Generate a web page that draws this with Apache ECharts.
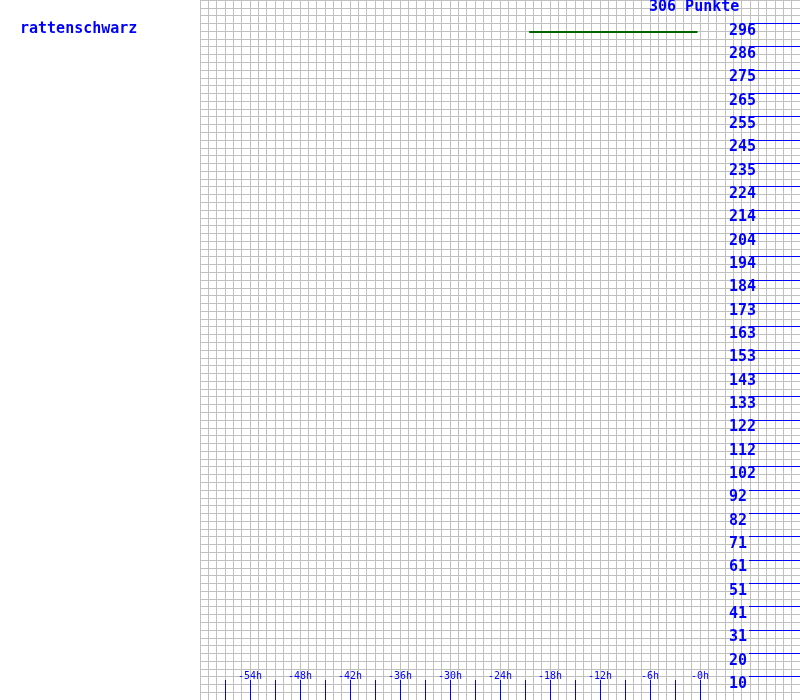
<!DOCTYPE html>
<html>
<head>
<meta charset="utf-8">
<script src="https://cdn.jsdelivr.net/npm/echarts@6/dist/echarts.min.js"></script>
<style>
html,body{margin:0;padding:0;background:#fff;}
#chart{width:800px;height:700px;}
</style>
</head>
<body>
<div id="chart"></div>
<script>
// ---- data ----
var playerName = 'rattenschwarz';
var yMax = 306;
var unitLabel = 'Punkte';
var xMin = -60, xMax = 12;            // hours
var yTickLabels = [10,20,31,41,51,61,71,82,92,102,112,122,133,143,153,163,173,184,194,204,214,224,235,245,255,265,275,286,296];
var xTickHours = [-57,-54,-51,-48,-45,-42,-39,-36,-33,-30,-27,-24,-21,-18,-15,-12,-9,-6,-3,0];
var xLabelHours = [-54,-48,-42,-36,-30,-24,-18,-12,-6,0];
var xLabelTexts = ['-54h','-48h','-42h','-36h','-30h','-24h','-18h','-12h','-6h','-0h'];
var pointsHours = [-20.5, -0.3];
var pointsValues = [292, 292];

// ---- build ----
var ySteps = yTickLabels.length + 1;   // 30 steps over 0..yMax
var yTickPos = yTickLabels.map(function (l, i) { return (i + 1) * yMax / ySteps; });
var seriesData = pointsHours.map(function (h, i) { return [h, pointsValues[i]]; });
var FONT = '"DejaVu Sans Mono", "Liberation Mono", monospace';
var BLUE = '#0000ff';
var GRIDC = '#c0c0c0';

var chart = echarts.init(document.getElementById('chart'), null, {renderer: 'canvas'});
chart.setOption({
  animation: false,
  backgroundColor: '#ffffff',
  title: [
    {text: playerName, left: 20, top: 22, padding: 0,
     textStyle: {color: BLUE, fontFamily: FONT, fontSize: 15, fontWeight: 'bold'}},
    {text: yMax + ' ' + unitLabel, left: 649, top: 0, padding: 0,
     textStyle: {color: BLUE, fontFamily: FONT, fontSize: 15, fontWeight: 'bold'}}
  ],
  grid: {left: 200, right: 0, top: 0, bottom: 0, containLabel: false},
  xAxis: [
    {type: 'value', min: xMin, max: xMax, interval: 1,
     axisLine: {show: false, onZero: false}, axisTick: {show: false}, axisLabel: {show: false},
     splitLine: {show: true, lineStyle: {color: GRIDC, width: 1}}},
    {type: 'value', min: xMin, max: xMax, position: 'bottom',
     axisLine: {show: false, onZero: false},
     splitLine: {show: false},
     axisTick: {show: true, inside: true, length: 20, customValues: xTickHours,
                lineStyle: {color: BLUE, width: 1}},
     axisLabel: {show: true, inside: true, margin: 19, customValues: xLabelHours,
                 color: BLUE, fontFamily: FONT, fontSize: 10, verticalAlign: 'bottom',
                 formatter: function (v) { return xLabelTexts[xLabelHours.indexOf(v)]; }}}
  ],
  yAxis: [
    {type: 'value', min: 0, max: yMax, interval: yMax / 90,
     axisLine: {show: false, onZero: false}, axisTick: {show: false}, axisLabel: {show: false},
     splitLine: {show: true, lineStyle: {color: GRIDC, width: 1}}},
    {type: 'value', min: 0, max: yMax, position: 'right',
     axisLine: {show: false, onZero: false}, splitLine: {show: false},
     axisTick: {show: true, inside: true, length: 51, customValues: yTickPos,
                lineStyle: {color: BLUE, width: 1}},
     axisLabel: {show: true, inside: true, margin: 71, customValues: yTickPos,
                 align: 'left', verticalAlign: 'top', lineHeight: 15,
                 color: BLUE, fontFamily: FONT, fontSize: 15, fontWeight: 'bold',
                 formatter: function (v) { return String(yTickLabels[Math.round(v * ySteps / yMax) - 1]); }}}
  ],
  series: [{
    type: 'line', xAxisIndex: 0, yAxisIndex: 0, data: seriesData,
    showSymbol: false, symbol: 'none',
    lineStyle: {color: '#006400', width: 2}
  }]
});
</script>
</body>
</html>
